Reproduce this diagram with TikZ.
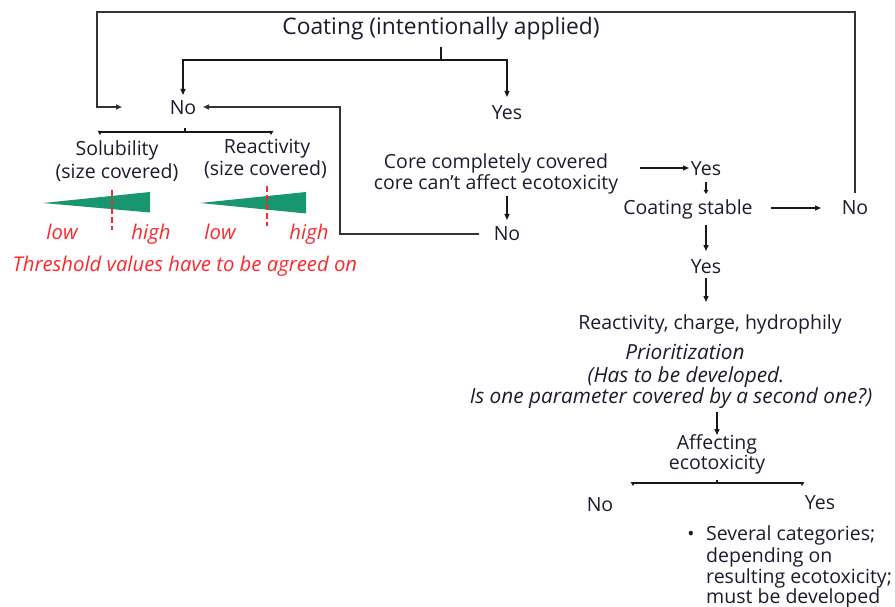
\documentclass[tikz,border=0pt]{standalone}
\usepackage{fontspec}
\setmainfont{Open Sans}
\usetikzlibrary{arrows.meta}
\definecolor{txt}{RGB}{30,25,45}
\definecolor{wedge}{RGB}{24,150,112}
\definecolor{alert}{RGB}{250,40,45}
\tikzset{
  lbl/.style={inner sep=0pt, anchor=base, text=txt, font=\fontsize{19.5}{22}\selectfont},
  ital/.style={lbl, font=\fontsize{20.8}{24}\selectfont\itshape},
  note/.style={lbl, text=alert, font=\fontsize{20.3}{24}\selectfont\itshape},
  frame/.style={draw=black!80, line width=1.8pt},
  flow/.style={draw=black!90, line width=1.3pt, -{Triangle[length=6pt,width=5pt]}},
  bar/.style={draw=black!90, line width=1.4pt},
  tip/.style={draw=black!90, line width=1.1pt, -{Triangle[length=4pt,width=4.5pt]}},
  thr/.style={draw=alert, line width=1.6pt, dash pattern=on 6pt off 3pt},
}
\begin{document}
\begin{tikzpicture}[x=1pt,y=-1pt]
\useasboundingbox (0,0) rectangle (895,607);

% ---- texts (placed on their baselines) ----
\node[lbl, font=\fontsize{22.8}{26}\selectfont] (coat) at (441,35) {Coating (intentionally applied)};
\node[lbl] (no1) at (183,114.5) {No};
\node[lbl] (yes1) at (507,119.5) {Yes};
\node[lbl] (sol) at (117,155.5) {Solubility};
\node[lbl] (solb) at (117,178.5) {(size covered)};
\node[lbl] (rea) at (267,153.5) {Reactivity};
\node[lbl] (reab) at (265.5,175.5) {(size covered)};
\node[note] (low1) at (62,239.5) {low};
\node[note] (high1) at (151,239.5) {high};
\node[note] (low2) at (220,239.5) {low};
\node[note] (high2) at (309,239.5) {high};
\node[note] (thr) at (185,271.5) {Threshold values have to be agreed on};
\node[lbl] (core) at (496,168.5) {Core completely covered};
\node[lbl] (coreb) at (496,189.5) {core can’t affect ecotoxicity};
\node[lbl] (no2) at (507,240.5) {No};
\node[lbl] (yes2) at (706,175.5) {Yes};
\node[lbl] (stab) at (688,214.5) {Coating stable};
\node[lbl] (no3) at (855,214.5) {No};
\node[lbl] (yes3) at (706,273.5) {Yes};
\node[lbl] (rch) at (710,329.5) {Reactivity, charge, hydrophily};
\node[ital] (prio) at (685,359.5) {Prioritization};
\node[ital] (prio2) at (686,382.5) {(Has to be developed.};
\node[ital] (prio3) at (671,403.5) {Is one parameter covered by a second one?)};
\node[lbl] (aff) at (717,449.5) {Affecting};
\node[lbl] (affb) at (717,469.5) {ecotoxicity};
\node[lbl] (no4) at (600,511.5) {No};
\node[lbl] (yes4) at (820,509.5) {Yes};
\node[lbl, anchor=base west] (cat1) at (706,540) {Several categories;};
\node[lbl, anchor=base west] (cat2) at (706,562) {depending on};
\node[lbl, anchor=base west] (cat3) at (706,583) {resulting ecotoxicity;};
\node[lbl, anchor=base west] (cat4) at (706,603) {must be developed};
\node[lbl, font=\fontsize{19}{20}\selectfont] (bul) at (691,540) {•};

% ---- outer return frame ----
\coordinate (fl) at (97,12);
\coordinate (fr) at (855,12);
\draw[frame, -{Triangle[length=6pt,width=5pt]}] (no3 |- 0,193) -- (fr) -- (fl) -- (97,107) -- (122,107);

% ---- split below the title ----
\coordinate (split) at (441,60);
\draw[bar] (coat |- 0,47) -- (split);
\draw[flow] (split) -| (no1 |- 0,95);
\draw[flow] (split) -| (yes1 |- 0,97);

% ---- core check ----
\draw[flow] (no2 |- 0,196) -- (no2 |- 0,220);
\draw[frame, -{Triangle[length=6pt,width=5pt]}] (479,234) -- (340,234) -- (340,107) -- (203,107);
\draw[flow] (640,168) -- (689,168);
\draw[tip] (yes2 |- 0,182) -- (yes2 |- 0,194);
\draw[flow] (771,208) -- (821,208);
\draw[flow] (yes3 |- 0,225) -- (yes3 |- 0,251);
\draw[flow] (yes3 |- 0,278) -- (yes3 |- 0,302);
\draw[flow] (aff |- 0,412) -- (aff |- 0,435);

% ---- two-way branches ----
\coordinate (brL) at (100,132);
\coordinate (brR) at (271,132);
\draw[bar] (brL) -- (brR);
\draw[bar] (185,128) -- (185,132);
\draw[tip] (brL) -- ++(0,3);
\draw[tip] (brR) -- ++(0,3);

\coordinate (brL2) at (633,483);
\coordinate (brR2) at (802,483);
\draw[bar] (brL2) -- (brR2);
\draw[bar] (717,479.5) -- (717,483);
\draw[tip] (brL2) -- ++(0,3);
\draw[tip] (brR2) -- ++(0,3);

% ---- threshold wedges ----
\fill[wedge] (43,203) -- (150,192) -- (150,212.5) -- cycle;
\draw[thr] (112,190) -- (112,230);
\fill[wedge] (200,203) -- (306,192) -- (306,213.5) -- cycle;
\draw[thr] (267,186) -- (267,226);
\end{tikzpicture}
\end{document}
